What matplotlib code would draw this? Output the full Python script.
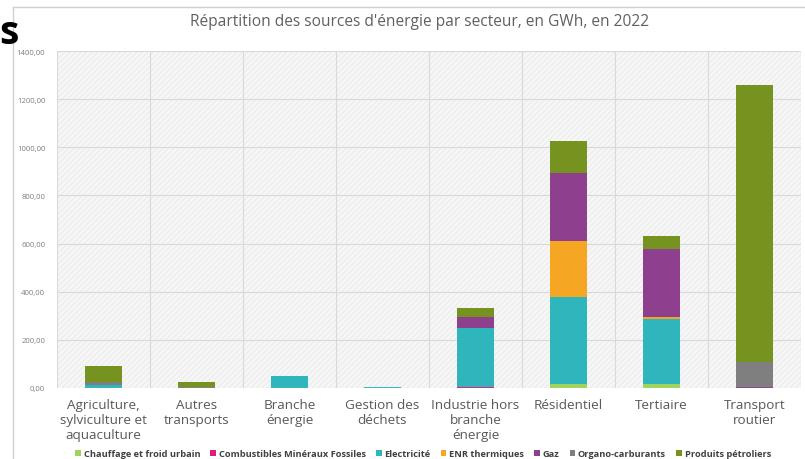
import matplotlib
matplotlib.use("Agg")
import matplotlib.pyplot as plt
from matplotlib.patches import Rectangle, Patch
import numpy as np

plt.rcParams['font.family'] = ['Open Sans', 'DejaVu Sans']
plt.rcParams['hatch.linewidth'] = 0.4

categories = ["Agriculture,\nsylviculture et\naquaculture", "Autres\ntransports",
              "Branche\nénergie", "Gestion des\ndéchets", "Industrie hors\nbranche\nénergie",
              "Résidentiel", "Tertiaire", "Transport\nroutier"]

series_names = ["Chauffage et froid urbain", "Combustibles Minéraux Fossiles", "Electricité",
                "ENR thermiques", "Gaz", "Organo-carburants", "Produits pétroliers"]

chauffage   = [0, 0, 0, 0, 0, 18, 18, 0]
combustible = [0, 0, 0, 0, 3, 0, 0, 0]
electricite = [14, 2, 48, 3, 245, 360, 270, 0]
enr         = [0, 0, 0, 0, 0, 232, 7, 0]
gaz         = [0, 0, 0, 0, 48, 284, 281, 4]
organo      = [10, 1, 0, 0, 1, 0, 0, 103]
petroliers  = [68, 22, 0, 0, 35, 131, 54, 1150]

series = [chauffage, combustible, electricite, enr, gaz, organo, petroliers]
colors = ["#9FD35A", "#E0197D", "#2FB6BC", "#F5A623", "#8E3F8E", "#7F7F7F", "#76921F"]

yticks = [0, 200, 400, 600, 800, 1000, 1200, 1400]
ytick_labels = ["0,00", "200,00", "400,00", "600,00", "800,00", "1000,00", "1200,00", "1400,00"]

W, H = 805, 460
fig = plt.figure(figsize=(W / 100, H / 100), dpi=100)
fig.patch.set_facecolor("white")

# outer frame of the chart object
fig.add_artist(plt.Line2D([13 / W, 13 / W], [0, 1 - 8 / H], color="#d0d0d0", lw=1))
fig.add_artist(plt.Line2D([13 / W, 1], [1 - 8 / H, 1 - 8 / H], color="#d0d0d0", lw=1))

# truncated slide text
fig.text(-1 / W, 1 - 33 / H, "s", fontsize=28, fontweight="bold", color="black",
         ha="left", va="center", family=["Open Sans", "DejaVu Sans"])

ax = fig.add_axes([57 / W, 1 - 389 / H, (801 - 57) / W, (389 - 52) / H])
ax.set_facecolor("white")
ax.add_patch(Rectangle((0, 0), 1, 1, transform=ax.transAxes, facecolor="#f6f6f6",
                       edgecolor="#e2e2e2", hatch="//////", lw=0, zorder=0))

x = np.arange(len(categories))
bottom = np.zeros(len(categories))
for vals, col, name in zip(series, colors, series_names):
    ax.bar(x, vals, 0.4, bottom=bottom, color=col, label=name, zorder=3)
    bottom += np.array(vals)

ax.set_xlim(-0.5, len(categories) - 0.5)
ax.set_ylim(0, 1400)
ax.set_yticks(yticks)
ax.set_yticklabels(ytick_labels, fontsize=5.6, color="#7f7f7f")
for y in yticks[1:]:
    ax.axhline(y, color="#d9d9d9", lw=0.8, zorder=1)
for b in np.arange(-0.5, len(categories), 1.0):
    ax.axvline(b, color="#d9d9d9", lw=0.8, zorder=1)
ax.axhline(0, color="#d9d9d9", lw=0.8, zorder=4)

ax.set_xticks(x)
ax.set_xticklabels(categories, fontsize=9.7, color="#595959", linespacing=1.22)
ax.tick_params(axis="both", length=0)
ax.tick_params(axis="x", pad=7)
ax.tick_params(axis="y", pad=8.5)
for s in ax.spines.values():
    s.set_visible(False)

fig.text(420 / W, 1 - 22 / H, "Répartition des sources d'énergie par secteur, en GWh, en 2022",
         fontsize=11.2, color="#606060", ha="center", va="center")

handles = [Patch(facecolor=c, edgecolor="none") for c in colors]
leg = fig.legend(handles, series_names, loc="center", bbox_to_anchor=(423 / W, 1 - 455 / H),
                 ncol=7, frameon=False, fontsize=6.7, handlelength=0.6, handleheight=0.6,
                 handletextpad=0.3, columnspacing=1.1, borderaxespad=0)
for t in leg.get_texts():
    t.set_color("#404040")
    t.set_fontweight("bold")

fig.savefig("out.png", dpi=100)
